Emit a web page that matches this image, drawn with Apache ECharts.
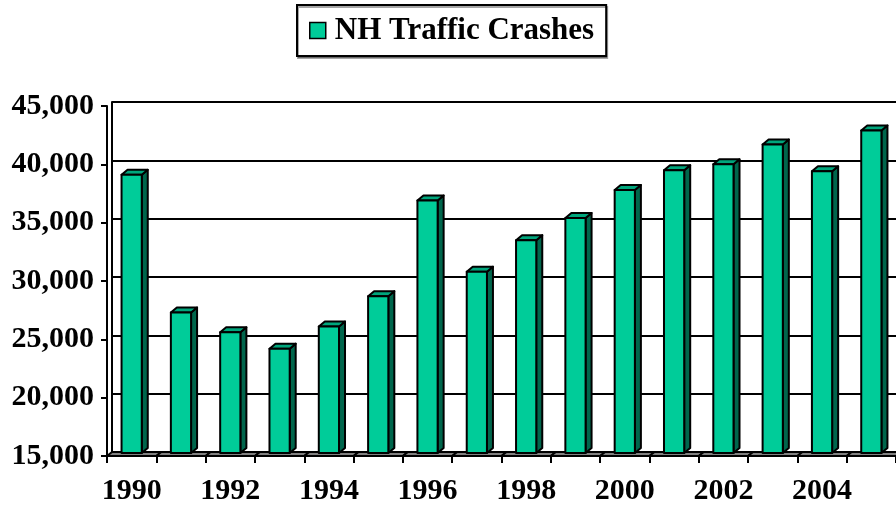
<!DOCTYPE html>
<html>
<head>
<meta charset="utf-8">
<script src="https://cdn.jsdelivr.net/npm/echarts@6/dist/echarts.min.js"></script>
<style>
  html, body { margin: 0; padding: 0; background: #fff; }
  #main { width: 896px; height: 506px; }
</style>
</head>
<body>
<div id="main"></div>
<script>
// data
var years = ['1990', '1991', '1992', '1993', '1994', '1995', '1996', '1997',
  '1998', '1999', '2000', '2001', '2002', '2003', '2004', '2005'];
var crashes = [39100, 27300, 25600, 24200, 26100, 28700, 36900, 30800,
  33500, 35400, 37800, 39500, 40000, 41700, 39400, 42900];
var yMin = 15000, yMax = 45000, yStep = 5000;

var FONT = '"Liberation Serif", "Times New Roman", serif';
var DX = 6, DY = 5;  // fake 3d depth

function fmt(v) {
  return String(v).replace(/\B(?=(\d{3})+(?!\d))/g, ',');
}

function renderBar(params, api) {
  var cat = api.value(0);
  var top = api.coord([cat, api.value(1)]);
  var base = api.coord([cat, yMin]);
  var bw = api.size([1, 0])[0];
  var cx = top[0], fw = bw * 0.41;
  var l = cx - fw / 2, r = cx + fw / 2;
  var yt = top[1], yb = base[1] - 3;
  var x0 = cx - bw / 2, x1 = cx + bw / 2, yf = base[1];
  var line = { stroke: '#000', lineWidth: 2, lineJoin: 'round' };
  return {
    type: 'group',
    children: [
      // floor piece
      { type: 'polygon', shape: { points: [[x0, yf], [x1, yf], [x1 + DX - 1, yf - DY + 1], [x0 + DX - 1, yf - DY + 1]] },
        style: Object.assign({ fill: '#808080' }, line) },
      // side
      { type: 'polygon', shape: { points: [[r, yt], [r + DX, yt - DY], [r + DX, yb - DY], [r, yb]] },
        style: Object.assign({ fill: '#00664c' }, line) },
      // top
      { type: 'polygon', shape: { points: [[l, yt], [l + DX, yt - DY], [r + DX, yt - DY], [r, yt]] },
        style: Object.assign({ fill: '#00a67c' }, line) },
      // front
      { type: 'rect', shape: { x: l, y: yt, width: fw, height: yb - yt },
        style: Object.assign({ fill: '#00cc99' }, line) }
    ]
  };
}

var chart = echarts.init(document.getElementById('main'));

var barData = crashes.map(function (v, i) { return [i, v]; });

var option = {
  animation: false,
  backgroundColor: '#fff',
  legend: {
    data: ['NH Traffic Crashes'],
    left: 297,
    top: 5,
    padding: [10, 12, 10, 12],
    borderColor: '#000',
    borderWidth: 2,
    shadowColor: 'rgba(0,0,0,0.35)',
    shadowOffsetX: 1,
    shadowOffsetY: 2,
    backgroundColor: '#fff',
    icon: 'rect',
    itemWidth: 16,
    itemHeight: 16,
    itemGap: 5,
    itemStyle: { color: '#00cc99', borderColor: '#000', borderWidth: 1.5 },
    textStyle: { fontFamily: FONT, fontWeight: 'bold', fontSize: 31, color: '#000', padding: [0, 0, 0, 4] }
  },
  grid: [
    { left: 107, top: 106, width: 792, height: 350 },
    { left: 107 + DX - 1, top: 106 - DY + 1, width: 792, height: 350 }
  ],
  xAxis: [
    {
      type: 'category',
      gridIndex: 0,
      data: years,
      axisLine: { lineStyle: { color: '#000', width: 2 } },
      axisTick: { show: true, alignWithLabel: false, interval: 0, length: 7, lineStyle: { color: '#000', width: 2 } },
      axisLabel: { interval: 1, margin: 20, color: '#000', fontFamily: FONT, fontWeight: 'bold', fontSize: 30 },
      splitLine: { show: false }
    },
    {
      type: 'category',
      gridIndex: 1,
      data: years,
      show: false
    }
  ],
  yAxis: [
    {
      type: 'value',
      gridIndex: 0,
      min: yMin, max: yMax, interval: yStep,
      axisLine: { show: true, lineStyle: { color: '#000', width: 2 } },
      axisTick: { show: true, length: 6, lineStyle: { color: '#000', width: 2 } },
      axisLabel: { margin: 13, color: '#000', fontFamily: FONT, fontWeight: 'bold', fontSize: 30, formatter: fmt },
      splitLine: { show: false }
    },
    {
      type: 'value',
      gridIndex: 1,
      min: yMin, max: yMax, interval: yStep,
      axisLine: { show: true, lineStyle: { color: '#000', width: 2 } },
      axisTick: { show: false },
      axisLabel: { show: false },
      splitLine: { show: true, lineStyle: { color: '#000', width: 2 } }
    }
  ],
  series: [
    {
      name: 'NH Traffic Crashes',
      type: 'custom',
      xAxisIndex: 0,
      yAxisIndex: 0,
      renderItem: renderBar,
      encode: { x: 0, y: 1 },
      itemStyle: { color: '#00cc99' },
      data: barData,
      z: 5
    }
  ]
};

chart.setOption(option);
</script>
</body>
</html>
